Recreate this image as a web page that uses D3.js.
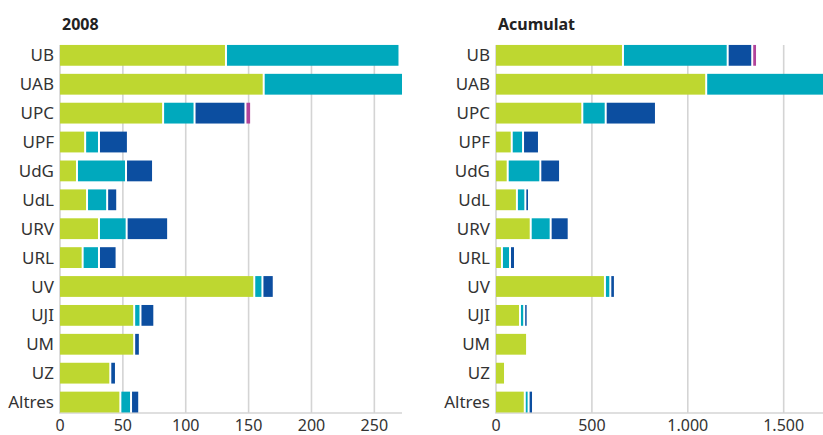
<!DOCTYPE html>
<html>
<head>
<meta charset="utf-8">
<script src="https://cdn.jsdelivr.net/npm/d3@7"></script>
<style>
  body { margin: 0; background: #fff; }
  text { font-family: "Noto Sans", sans-serif; fill: #333; }
</style>
</head>
<body>
<div id="container"></div>
<script>
// Categories (universities)
var categories = ["UB", "UAB", "UPC", "UPF", "UdG", "UdL", "URV", "URL", "UV", "UJI", "UM", "UZ", "Altres"];

// Panel "2008" - stacked segments
var green2008   = [132, 162, 82, 20, 13.5, 21.5, 31, 18, 154.5, 59, 59, 40, 48];
var teal2008    = [138, 112, 25, 11, 39, 16, 22, 13, 6.5, 5, 0, 0, 8.5];
var blue2008    = [0, 0, 40.5, 23, 21.5, 8, 33, 14, 9, 11, 4.5, 4.5, 6.5];
var magenta2008 = [0, 0, 4.5, 0, 0, 0, 0, 0, 0, 0, 0, 0, 0];

// Panel "Acumulat" - stacked segments
var greenAcc   = [662, 1096, 450, 82, 61, 109, 181, 31, 568, 125, 162, 47, 150];
var tealAcc    = [546, 620, 122, 59, 170, 44, 104, 42, 28, 22, 0, 0, 20];
var blueAcc    = [128, 0, 262, 83, 103, 19, 94, 26, 24, 18, 0, 0, 23];
var magentaAcc = [25, 0, 0, 0, 0, 0, 0, 0, 0, 0, 0, 0, 0];

var ticks2008 = [0, 50, 100, 150, 200, 250];
var ticksAcc = [0, 500, 1000, 1500];

var colors = ["#bed730", "#00a9bd", "#0c4ea0", "#b1449b"];

var width = 823,
    height = 435;

var svg = d3.select("#container")
            .append("svg")
              .attr("width", width)
              .attr("height", height);

var y = d3.scaleBand()
          .domain(categories)
          .range([40.9, 416.5])
          .paddingInner(0.28)
          .paddingOuter(0.14);

var fmt = d3.formatLocale({decimal: ",", thousands: ".", grouping: [3], currency: ["", "€"]}).format(",d");

drawPanel("p1", "2008", [green2008, teal2008, blue2008, magenta2008], [0, 272], [60, 402], ticks2008);
drawPanel("p2", "Acumulat", [greenAcc, tealAcc, blueAcc, magentaAcc], [0, 1705], [496, 823], ticksAcc);

function drawPanel(id, title, series, domain, range, ticks) {

  var x = d3.scaleLinear()
            .domain(domain)
            .range(range);

  var g = svg.append("g");

  // clip so long bars stop at panel edge
  svg.append("clipPath")
      .attr("id", "clip-" + id)
    .append("rect")
      .attr("x", range[0])
      .attr("y", 0)
      .attr("width", range[1] - range[0])
      .attr("height", height);

  // Gridlines
  g.selectAll(".grid")
    .data(ticks)
    .enter()
    .append("line")
      .attr("x1", function(d) { return x(d); })
      .attr("x2", function(d) { return x(d); })
      .attr("y1", y(categories[0]))
      .attr("y2", 413)
      .attr("stroke", "#d4d4d4")
      .attr("stroke-width", 1.6);

  // Bottom axis line
  g.append("line")
    .attr("x1", range[0] - 0.8)
    .attr("x2", range[1])
    .attr("y1", 413)
    .attr("y2", 413)
    .attr("stroke", "#d4d4d4")
    .attr("stroke-width", 1.6);

  // Build stacked rows
  var rows = categories.map(function(c, i) {
    var start = 0;
    var segs = [];
    series.forEach(function(s, k) {
      var v = s[i];
      if (v > 0) {
        segs.push({cat: c, start: start, end: start + v, color: colors[k]});
      }
      start += v;
    });
    return segs;
  });
  var segs = [].concat.apply([], rows);

  g.append("g")
    .attr("clip-path", "url(#clip-" + id + ")")
    .selectAll("rect")
    .data(segs)
    .enter()
    .append("rect")
      .attr("x", function(d) { return x(d.start) + (d.start > 0 ? 1 : 0); })
      .attr("y", function(d) { return y(d.cat); })
      .attr("width", function(d) {
        return Math.max(0.8, x(d.end) - 1 - (x(d.start) + (d.start > 0 ? 1 : 0)));
      })
      .attr("height", y.bandwidth())
      .attr("fill", function(d) { return d.color; });

  // Category labels
  g.selectAll(".cat")
    .data(categories)
    .enter()
    .append("text")
      .attr("x", range[0] - 6)
      .attr("y", function(d) { return y(d) + y.bandwidth() / 2; })
      .attr("dy", "0.36em")
      .style("text-anchor", "end")
      .style("font-size", "17px")
      .text(function(d) { return d; });

  // Tick labels
  g.selectAll(".tick")
    .data(ticks)
    .enter()
    .append("text")
      .attr("x", function(d) { return x(d); })
      .attr("y", 431)
      .style("text-anchor", "middle")
      .style("font-size", "16px")
      .text(function(d) { return fmt(d); });

  // Title
  g.append("text")
    .attr("x", range[0] + 2)
    .attr("y", 30)
    .style("font-size", "16px")
    .style("font-weight", "bold")
    .style("fill", "#222")
    .text(title);
}
</script>
</body>
</html>
